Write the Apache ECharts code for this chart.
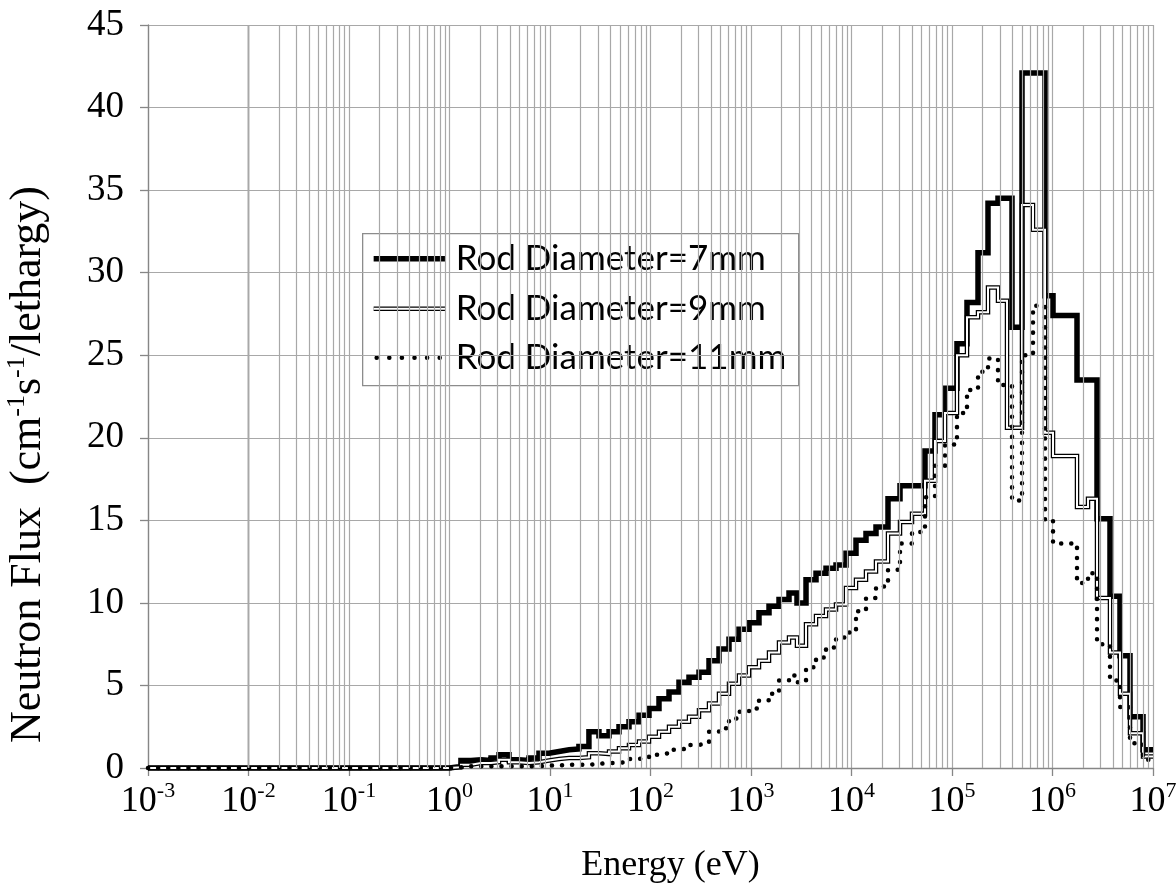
<!DOCTYPE html>
<html>
<head>
<meta charset="utf-8">
<script src="https://cdn.jsdelivr.net/npm/echarts@6/dist/echarts.min.js"></script>
<style>
html,body{margin:0;padding:0;background:#fff;}
#chart{width:1176px;height:893px;}
</style>
</head>
<body>
<div id="chart"></div>
<script>
// group edges in eV (read from the step positions)
var energyEdges = [0.001, 1, 1.30, 1.64, 2.06, 2.59, 3.11, 3.91, 4.91, 6.18, 7.77, 9.77, 12.3, 15.5, 19.4, 24.4, 30.7, 38.7, 48.6, 61.1, 76.9, 96.6,
  121.5, 152.8, 192.1, 241.6, 303.8, 382.1, 480.4, 604.1, 759.6, 955.3, 1201, 1511, 1900, 2389, 2869, 3527, 4435, 5576, 7012, 8817,
  11087, 13941, 17530, 23080, 30390, 39990, 53870, 67740, 85180, 112100, 141000, 181500, 228200, 286900, 352700, 395500, 497300,
  639700, 842300, 1012000, 1753000, 2256000, 2773000, 3734000, 4695000, 5904000, 7955000, 10000000];

// flux per group, one value per bin
var flux7mm = [0, 0.1, 0.45, 0.5, 0.45, 0.6, 0.8, 0.5, 0.45, 0.6, 0.9, 1.0, 1.1, 1.15, 1.3, 2.2, 1.95, 2.2, 2.5, 2.8, 3.2, 3.6,
  4.2, 4.6, 5.2, 5.5, 5.8, 6.5, 7.2, 7.8, 8.4, 8.8, 9.4, 9.8, 10.2, 10.6, 10.0, 11.4, 11.8, 12.1, 12.3, 13.0, 13.8, 14.2, 14.6,
  16.3, 17.1, 17.1, 19.2, 21.4, 23.0, 25.7, 28.2, 31.2, 34.2, 34.5, 34.5, 26.7, 42.1, 42.1, 28.6, 27.4, 23.5, 23.5, 15.1, 10.4,
  6.8, 3.1, 1.1];
var flux9mm = [0, 0.05, 0.2, 0.3, 0.3, 0.35, 0.5, 0.35, 0.3, 0.35, 0.45, 0.55, 0.6, 0.6, 0.65, 0.9, 0.85, 1.0, 1.2, 1.4, 1.6, 1.9,
  2.2, 2.5, 2.8, 3.1, 3.5, 3.9, 4.5, 5.1, 5.6, 6.1, 6.5, 7.0, 7.6, 7.9, 7.4, 8.7, 9.2, 9.6, 9.9, 10.9, 11.4, 11.9, 12.5,
  14.2, 14.9, 15.4, 17.4, 19.8, 21.5, 25.0, 27.3, 27.6, 29.1, 28.3, 20.6, 20.6, 34.1, 32.6, 20.3, 18.9, 15.8, 16.3, 10.3, 7.0,
  4.5, 2.1, 0.7];
var flux11mm = [0, 0.05, 0.1, 0.1, 0.1, 0.1, 0.1, 0.1, 0.1, 0.1, 0.15, 0.15, 0.2, 0.2, 0.2, 0.25, 0.3, 0.3, 0.4, 0.55, 0.6, 0.8,
  0.9, 1.1, 1.2, 1.4, 1.5, 2.2, 2.4, 3.0, 3.4, 3.6, 4.1, 4.5, 5.3, 5.6, 5.2, 6.1, 6.7, 7.3, 7.9, 8.2, 9.5, 10.3, 11.0,
  12.0, 13.6, 14.3, 16.4, 18.3, 19.6, 21.5, 22.9, 24.0, 24.8, 23.2, 23.2, 16.2, 25.0, 28.0, 15.0, 13.6, 11.2, 11.8, 7.5, 5.3,
  3.7, 1.5, 0.5];

var seriesNames = ['Rod Diameter=7mm', 'Rod Diameter=9mm', 'Rod Diameter=11mm'];
var decades = [-3, -2, -1, 0, 1, 2, 3, 4, 5, 6, 7];
var yMax = 45, yStep = 5;

var serif = 'Liberation Serif';

// line looks, shared by the plot and the legend box
var style7 = { color: '#000', width: 5.5, join: 'miter' };
var style9 = { color: '#000', width: 4.5, join: 'miter' };
var style9core = { color: '#fff', width: 2, join: 'miter' };
var style11 = { color: '#000', width: 4.5, type: [0.1, 10], cap: 'round' };

// bin values -> points for a step:'end' line
function toSteps(edges, vals) {
  var pts = [];
  for (var i = 0; i < vals.length; i++) pts.push([edges[i], vals[i]]);
  pts.push([edges[edges.length - 1], vals[vals.length - 1]]);
  return pts;
}

// minor log grid lines 2..9 in each decade
var minorLines = [];
for (var d = 0; d < decades.length - 1; d++) {
  for (var m = 2; m <= 9; m++) minorLines.push({ xAxis: m * Math.pow(10, decades[d]) });
}

// legend box, drawn by hand so the double / dotted samples look right
function sample(y, st, dash) {
  return {
    type: 'line', shape: { x1: 11, y1: y, x2: 83, y2: y },
    style: { stroke: st.color, lineWidth: st.width, lineDash: dash || null, lineCap: dash ? 'round' : 'butt' }
  };
}
function label(y, txt) {
  return {
    type: 'text', x: 93, y: y,
    style: { text: txt, font: '35px Lato', fill: '#000', verticalAlign: 'middle', align: 'left' }
  };
}
var legendBox = {
  type: 'group', left: 362, top: 233, z: 10,
  children: [
    { type: 'rect', shape: { x: 0, y: 0, width: 436, height: 152 }, style: { fill: '#fff', stroke: '#8c8c8c', lineWidth: 1.3 } },
    sample(25, style7),
    sample(75, style9),
    sample(75, style9core),
    {
      type: 'line', shape: { x1: 14, y1: 124, x2: 80, y2: 124 },
      style: { stroke: '#000', lineWidth: 4.5, lineDash: [0.1, 12.5], lineCap: 'round' }
    },
    label(25, seriesNames[0]),
    label(75, seriesNames[1]),
    label(124, seriesNames[2])
  ]
};

var chart = echarts.init(document.getElementById('chart'));
chart.setOption({
  animation: false,
  backgroundColor: '#fff',
  grid: { left: 148, right: 23, top: 25, bottom: 125, outerBoundsMode: 'none' },
  xAxis: {
    type: 'log', logBase: 10,
    min: Math.pow(10, decades[0]), max: Math.pow(10, decades[decades.length - 1]),
    interval: 1, splitNumber: 10,
    axisLine: { show: true, onZero: false, lineStyle: { color: '#868686', width: 1.3 } },
    axisTick: { show: true, length: 8, lineStyle: { color: '#868686', width: 1.3 } },
    axisLabel: {
      margin: 12, showMinLabel: true, showMaxLabel: true, interval: 0, hideOverlap: false,
      formatter: function (v) {
        var p = Math.round(Math.log(v) / Math.LN10);
        return '{b|10}{s|' + p + '}';
      },
      rich: {
        b: { fontFamily: serif, fontSize: 36, color: '#000', lineHeight: 40, verticalAlign: 'bottom' },
        s: { fontFamily: serif, fontSize: 22, color: '#000', lineHeight: 22, verticalAlign: 'top' }
      }
    },
    splitLine: { show: true, lineStyle: { color: '#a8a8a8', width: 1.2 } },
    name: 'Energy (eV)', nameLocation: 'middle', nameGap: 80,
    nameTextStyle: { fontFamily: serif, fontSize: 36, color: '#000', padding: [0, 0, 0, 40] }
  },
  yAxis: {
    type: 'value', min: 0, max: yMax, interval: yStep,
    axisLine: { show: true, lineStyle: { color: '#868686', width: 1.3 } },
    axisTick: { show: true, length: 8, lineStyle: { color: '#868686', width: 1.3 } },
    axisLabel: { fontFamily: serif, fontSize: 37, color: '#000', margin: 24 },
    splitLine: { show: true, lineStyle: { color: '#a8a8a8', width: 1.2 } },
    name: 'Neutron Flux  (cm{s|-1}s{s|-1}/lethargy)', nameLocation: 'middle', nameGap: 96,
    nameTextStyle: {
      fontFamily: serif, fontSize: 44, color: '#000', lineHeight: 48, padding: [0, 136, 0, 0],
      rich: { s: { fontFamily: serif, fontSize: 26, color: '#000', lineHeight: 26, verticalAlign: 'top' } }
    }
  },
  graphic: [legendBox],
  series: [
    {
      name: 'grid', type: 'line', z: 1, silent: true, symbol: 'none',
      data: [[1, 0]], lineStyle: { opacity: 0 },
      markLine: {
        silent: true, symbol: ['none', 'none'], label: { show: false },
        lineStyle: { color: '#a8a8a8', width: 1.2, type: 'solid' },
        data: minorLines
      }
    },
    {
      name: seriesNames[0], type: 'line', step: 'end', symbol: 'none', clip: false, z: 3,
      data: toSteps(energyEdges, flux7mm), lineStyle: style7
    },
    {
      name: seriesNames[1], type: 'line', step: 'end', symbol: 'none', clip: false, z: 3,
      data: toSteps(energyEdges, flux9mm), lineStyle: style9
    },
    {
      name: '9mm-core', type: 'line', step: 'end', symbol: 'none', clip: false, z: 3,
      data: toSteps(energyEdges, flux9mm), lineStyle: style9core
    },
    {
      name: seriesNames[2], type: 'line', step: 'end', symbol: 'none', clip: false, z: 3,
      data: toSteps(energyEdges, flux11mm), lineStyle: style11
    }
  ]
});
</script>
</body>
</html>
